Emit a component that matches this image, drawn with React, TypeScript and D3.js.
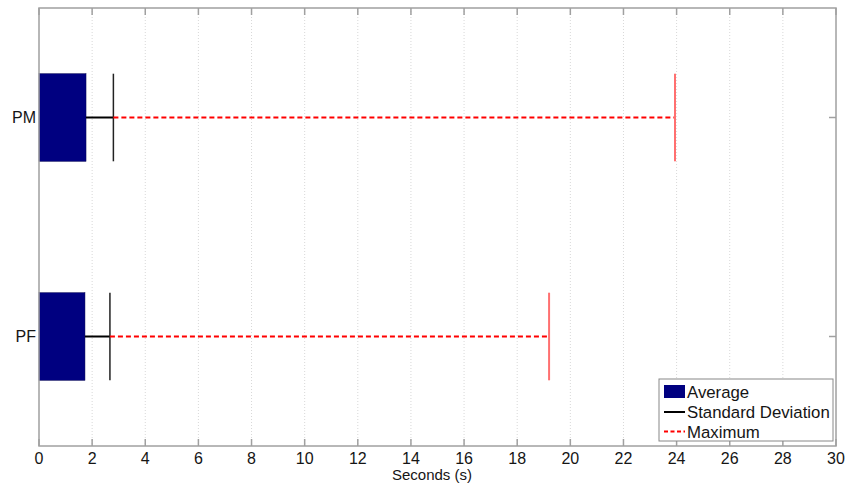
import React from "react";
import * as d3 from "d3";

const categories = ["PF", "PM"];
const averages = [1.73, 1.77];
const stdDevs = [2.67, 2.8];
const maximums = [19.2, 23.94];
const xTicks = d3.range(0, 31, 2);
const legendLabels = ["Average", "Standard Deviation", "Maximum"];

export default function App() {
  const W = 849, H = 483;
  const left = 39, right = 836, top = 8, bottom = 446;
  const x = d3.scaleLinear().domain([0, 30]).range([left, right]);
  const y = d3.scaleLinear().domain([0.5, 2.5]).range([bottom, top]);
  const barW = 0.4;
  const font = "'Liberation Sans', Arial, sans-serif";
  const axisColor = "#a0a0a0";
  const tickLen = 7;
  const txt = "#151515";

  return (
    <svg width={W} height={H} style={{ position: "absolute", left: 0, top: 0, background: "#fff" }} fontFamily={font}>
      <rect x={0} y={0} width={W} height={H} fill="#fff" />
      {/* grid */}
      {xTicks.slice(1, -1).map((t) => (
        <line key={"g" + t} x1={x(t)} x2={x(t)} y1={top} y2={bottom} stroke="#d8d8d8" strokeWidth={1} strokeDasharray="1,2" />
      ))}
      {/* bars & errors */}
      {categories.map((c, i) => {
        const yc = y(i + 1);
        const y0 = y(i + 1 + barW / 2);
        const y1 = y(i + 1 - barW / 2);
        return (
          <g key={c}>
            <rect x={x(0)} y={y0} width={x(averages[i]) - x(0)} height={y1 - y0} fill="#000080" stroke="#000050" strokeWidth={0.5} />
            <line x1={x(averages[i])} x2={x(stdDevs[i])} y1={yc} y2={yc} stroke="#000" strokeWidth={2} />
            <line x1={x(stdDevs[i])} x2={x(stdDevs[i])} y1={y0} y2={y1} stroke="#222" strokeWidth={1.5} />
            <line x1={x(stdDevs[i])} x2={x(maximums[i])} y1={yc} y2={yc} stroke="#ff0000" strokeWidth={2} strokeDasharray="5,3" />
            <line x1={x(maximums[i])} x2={x(maximums[i])} y1={y0} y2={y1} stroke="#ff7070" strokeWidth={2} />
          </g>
        );
      })}
      {/* axes box */}
      <rect x={left} y={top} width={right - left} height={bottom - top} fill="none" stroke={axisColor} strokeWidth={1.5} />
      {xTicks.map((t) => (
        <g key={"t" + t}>
          <line x1={x(t)} x2={x(t)} y1={bottom} y2={bottom - tickLen} stroke={axisColor} strokeWidth={1.5} />
          <line x1={x(t)} x2={x(t)} y1={top} y2={top + tickLen} stroke={axisColor} strokeWidth={1.5} />
          <text x={x(t)} y={bottom + 18} textAnchor="middle" fontSize={16} fill={txt}>{t}</text>
        </g>
      ))}
      {categories.map((c, i) => (
        <g key={"y" + c}>
          <line x1={right} x2={right - tickLen} y1={y(i + 1)} y2={y(i + 1)} stroke={axisColor} strokeWidth={1.5} />
          <text x={left - 3} y={y(i + 1)} dy="0.35em" textAnchor="end" fontSize={16} fill={txt}>{c}</text>
        </g>
      ))}
      <text x={432} y={480} textAnchor="middle" fontSize={15} fill={txt}>Seconds (s)</text>
      {/* legend */}
      <g>
        <rect x={659} y={379} width={174} height={62} fill="#fff" stroke="#888" strokeWidth={1} />
        <rect x={664} y={385} width={21} height={13} fill="#000080" />
        <line x1={664} x2={685} y1={412} y2={412} stroke="#000" strokeWidth={2} />
        <line x1={664} x2={685} y1={431.5} y2={431.5} stroke="#ff0000" strokeWidth={2} strokeDasharray="4,2.5" />
        {legendLabels.map((l, i) => (
          <text key={l} x={687} y={392 + i * 20} dy="0.35em" fontSize={16.8} fill={txt}>{l}</text>
        ))}
      </g>
    </svg>
  );
}
